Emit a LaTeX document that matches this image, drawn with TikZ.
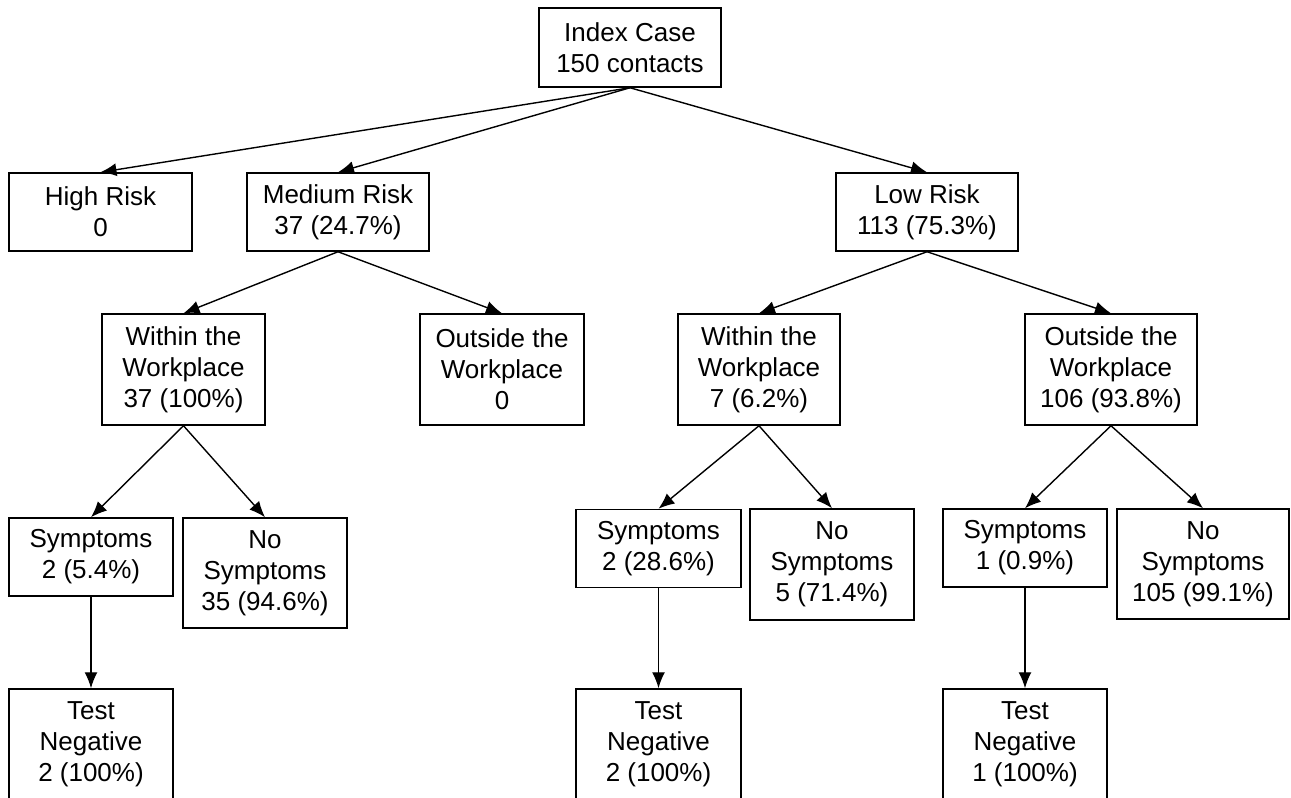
\documentclass[tikz,border=0pt]{standalone}
\usepackage{fontspec}
\setmainfont{Liberation Sans}
\usetikzlibrary{arrows.meta}
\tikzset{
    box/.style={draw, line width=1.5pt, align=center, inner sep=0pt,
        minimum width=164pt, minimum height=78pt,
        font=\fontsize{26}{31}\selectfont},
    tallbox/.style={box, minimum height=111pt},
    arr/.style={line width=1.4pt, -{Latex[length=16pt, width=13pt]}}
}
\begin{document}
\begin{tikzpicture}[x=1pt, y=-1pt]
    \clip (0,0) rectangle (1291,798);
    % top two levels
    \node[box, minimum width=182pt, minimum height=79pt] (idx) at (630,47.5) {Index Case\\150 contacts};
    \node[box, minimum width=183pt] (high) at (100.5,212) {High Risk\\0};
    \node[box, minimum width=182pt] (med) at (338,212) {Medium Risk\\37 (24.7\%)};
    \node[box, minimum width=182pt] (low) at (927,212) {Low Risk\\113 (75.3\%)};
    % workplace level
    \node[tallbox, minimum width=163pt] (inL) at (183.5,369.5) {Within the\\Workplace\\37 (100\%)};
    \node[tallbox] (outL) at (502,369.5) {Outside the\\Workplace\\0};
    \node[tallbox, minimum width=162pt] (inR) at (759,369.5) {Within the\\Workplace\\7 (6.2\%)};
    \node[tallbox, minimum width=172pt] (outR) at (1111,369.5) {Outside the\\Workplace\\106 (93.8\%)};
    % symptoms level
    \node[box] (symL) at (91,557) {Symptoms\\2 (5.4\%)};
    \node[tallbox, minimum height=110pt] (nosymL) at (265,573) {No\\Symptoms\\35 (94.6\%)};
    \node[box, minimum width=165pt] (symM) at (658.5,548.5) {Symptoms\\2 (28.6\%)};
    \node[tallbox] (nosymM) at (832,564.5) {No\\Symptoms\\5 (71.4\%)};
    \node[box] (symR) at (1025,548) {Symptoms\\1 (0.9\%)};
    \node[tallbox, minimum width=172pt, minimum height=110pt] (nosymR) at (1203,564) {No\\Symptoms\\105 (99.1\%)};
    % tests (cut by the lower edge)
    \node[tallbox] (testL) at (91,744.5) {Test\\Negative\\2 (100\%)};
    \node[tallbox, minimum width=165pt] (testM) at (658.5,744.5) {Test\\Negative\\2 (100\%)};
    \node[tallbox] (testR) at (1025,744.5) {Test\\Negative\\1 (100\%)};
    % arrows
    \foreach \a/\b in {idx/high, idx/med, idx/low, med/inL, med/outL, low/inR, low/outR,
        inL/symL, inL/nosymL, inR/symM, inR/nosymM, outR/symR, outR/nosymR,
        symL/testL, symM/testM, symR/testR} {
        \draw[arr] (\a.south) -- (\b.north);
    }
\end{tikzpicture}
\end{document}
